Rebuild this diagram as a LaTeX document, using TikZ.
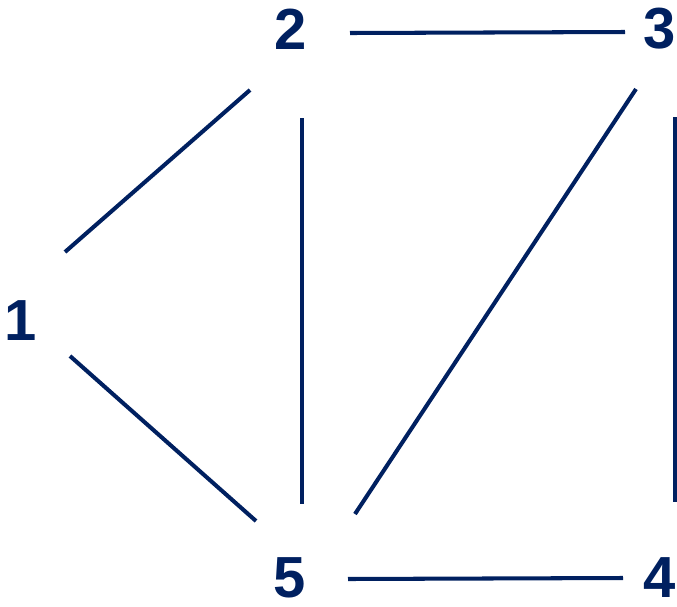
\documentclass[tikz,border=0pt]{standalone}
\usepackage{fontspec}
\setmainfont{Liberation Sans}
\definecolor{navy}{HTML}{002060}

\begin{document}
\begin{tikzpicture}[
  x = 0.02cm,
  y = -0.02cm,
  line cap=butt,
  vertex/.style={inner sep=0pt, text=navy, font=\fontsize{33}{40}\selectfont\bfseries},
  edge/.style={draw=navy, line width=2.3pt}
]
  \useasboundingbox (0,0) rectangle (677,606);

  % 꼭짓점
  \node[vertex] (n1) at (21,321) {1};
  \node[vertex] (n2) at (291,29) {2};
  \node[vertex] (n3) at (660,29) {3};
  \node[vertex] (n4) at (660,578) {4};
  \node[vertex] (n5) at (290,578) {5};

  % 변의 끝점
  \coordinate (e12a) at (65,252);  \coordinate (e12b) at (250,90);
  \coordinate (e15a) at (70,356);  \coordinate (e15b) at (256,521);
  \coordinate (e23a) at (350,33);  \coordinate (e23b) at (625,32);
  \coordinate (e25a) at (302,118); \coordinate (e25b) at (302,504);
  \coordinate (e35a) at (636,89);  \coordinate (e35b) at (355,514);
  \coordinate (e34a) at (675,117); \coordinate (e34b) at (675,502);
  \coordinate (e54a) at (348,579); \coordinate (e54b) at (623,578);

  % 변
  \draw[edge] (e12a) -- (e12b);
  \draw[edge] (e15a) -- (e15b);
  \draw[edge] (e23a) -- (e23b);
  \draw[edge] (e25a) -- (e25b);
  \draw[edge] (e35a) -- (e35b);
  \draw[edge] (e34a) -- (e34b);
  \draw[edge] (e54a) -- (e54b);
\end{tikzpicture}
\end{document}
